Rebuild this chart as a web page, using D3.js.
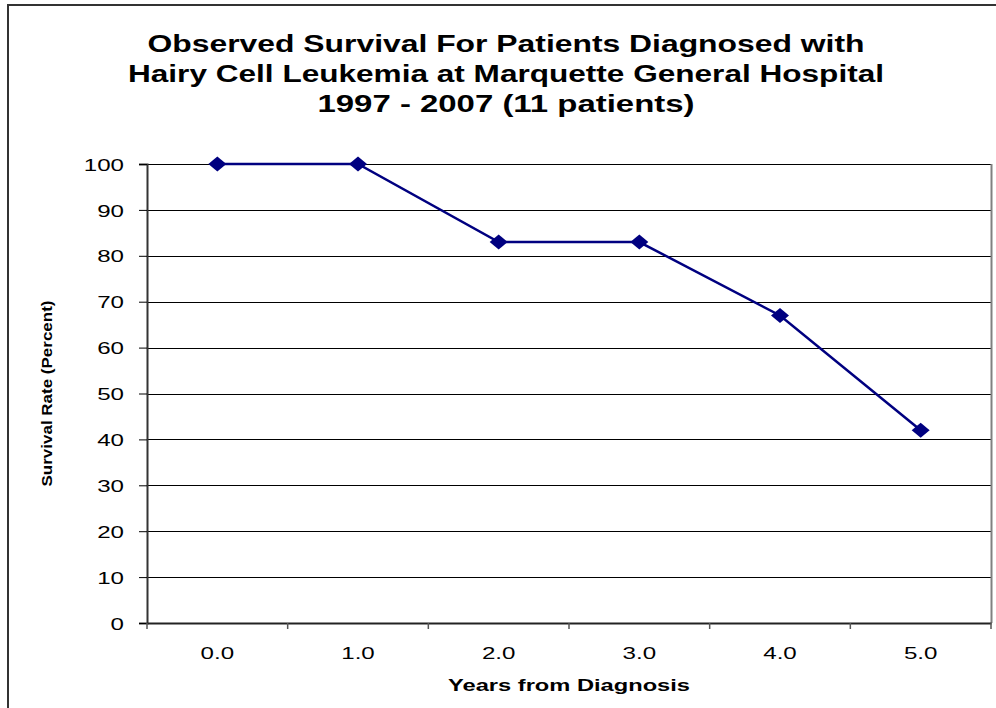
<!DOCTYPE html>
<html>
<head>
<meta charset="utf-8">
<script src="https://cdn.jsdelivr.net/npm/d3@7"></script>
<style>
  body { margin: 0; background: #fff; }
  text { font-family: Arial, "Liberation Sans", sans-serif; fill: #000; }
</style>
</head>
<body>
<div id="chart"></div>
<script>
var width = 996,
    height = 708,
    margin = { top: 164, right: 5, bottom: 85, left: 147 };

// data
var years = ['0.0', '1.0', '2.0', '3.0', '4.0', '5.0'];
var survival = [100, 100, 83, 83, 67, 42];
var yTicks = [0, 10, 20, 30, 40, 50, 60, 70, 80, 90, 100];
var titleLines = [
    'Observed Survival For Patients Diagnosed with',
    'Hairy Cell Leukemia at Marquette General Hospital',
    '1997 - 2007 (11 patients)'
];
var titleWidths = [717, 756, 377];

var innerW = 844,
    innerH = height - margin.top - margin.bottom;

var svg = d3.select('#chart').append('svg')
    .attr('width', width)
    .attr('height', height);

// outer frame (right and bottom cut off in the original)
svg.append('path')
    .attr('d', 'M8,' + height + 'V5H' + width)
    .attr('fill', 'none')
    .attr('stroke', '#333')
    .attr('stroke-width', 2);

// title
svg.selectAll('text.title')
    .data(titleLines)
    .enter().append('text')
    .attr('class', 'title')
    .attr('x', 506)
    .attr('y', function(d, i){ return 52 + i * 30; })
    .attr('text-anchor', 'middle')
    .attr('font-size', 23)
    .attr('font-weight', 'bold')
    .attr('textLength', function(d, i){ return titleWidths[i]; })
    .attr('lengthAdjust', 'spacingAndGlyphs')
    .text(function(d){ return d; });

var g = svg.append('g')
    .attr('transform', 'translate(' + [margin.left, margin.top] + ')');

var xScale = d3.scaleBand()
    .domain(years)
    .range([0, innerW])
    .paddingInner(0)
    .paddingOuter(0);

var yScale = d3.scaleLinear()
    .domain([0, 100])
    .range([innerH, 0]);

// gridlines
g.selectAll('line.grid')
    .data(yTicks.filter(function(d){ return d > 0; }))
    .enter().append('line')
    .attr('class', 'grid')
    .attr('x1', 0)
    .attr('x2', innerW)
    .attr('y1', function(d){ return Math.round(yScale(d)) + 0.5; })
    .attr('y2', function(d){ return Math.round(yScale(d)) + 0.5; })
    .attr('stroke', '#000')
    .attr('stroke-width', 1);

// plot area right border
g.append('line')
    .attr('x1', innerW + 0.5).attr('x2', innerW + 0.5)
    .attr('y1', 0).attr('y2', innerH)
    .attr('stroke', '#808080')
    .attr('stroke-width', 2);

// y axis
var yAxis = d3.axisLeft(yScale)
    .tickValues(yTicks)
    .tickSize(8)
    .tickPadding(16);

var yG = g.append('g')
    .attr('class', 'y axis')
    .call(yAxis);

yG.select('.domain').attr('stroke', '#333').attr('stroke-width', 2);
yG.selectAll('line').attr('stroke', '#000');
yG.selectAll('text')
    .attr('x', 0)
    .attr('dy', '0.36em')
    .attr('font-size', 17)
    .attr('font-family', 'Arial, "Liberation Sans", sans-serif')
    .attr('transform', 'translate(-23,0) scale(1.42,1)');

// x axis: categories with ticks on band edges
var xAxis = d3.axisBottom(xScale)
    .tickSize(0)
    .tickPadding(0);

var xG = g.append('g')
    .attr('class', 'x axis')
    .attr('transform', 'translate(0,' + innerH + ')')
    .call(xAxis);

xG.select('.domain').attr('stroke', '#222').attr('stroke-width', 2);
xG.selectAll('text')
    .attr('y', 0)
    .attr('dy', 0)
    .attr('font-size', 17)
    .attr('font-family', 'Arial, "Liberation Sans", sans-serif')
    .attr('transform', 'translate(0,36) scale(1.42,1)');

var edges = years.map(function(d){ return xScale(d); }).concat([innerW]);
xG.selectAll('line.edge')
    .data(edges)
    .enter().append('line')
    .attr('class', 'edge')
    .attr('x1', function(d){ return d; })
    .attr('x2', function(d){ return d; })
    .attr('y1', 0)
    .attr('y2', 6)
    .attr('stroke', '#555')
    .attr('stroke-width', 1.5);

// axis titles
g.append('text')
    .attr('x', innerW / 2)
    .attr('y', innerH + 68)
    .attr('text-anchor', 'middle')
    .attr('font-size', 17)
    .attr('font-weight', 'bold')
    .attr('textLength', 242)
    .attr('lengthAdjust', 'spacingAndGlyphs')
    .text('Years from Diagnosis');

g.append('text')
    .attr('transform', 'translate(-100,' + innerH / 2 + ') rotate(-90)')
    .attr('text-anchor', 'middle')
    .attr('dy', '0.35em')
    .attr('font-size', 14)
    .attr('font-weight', 'bold')
    .attr('textLength', 186)
    .attr('lengthAdjust', 'spacingAndGlyphs')
    .text('Survival Rate (Percent)');

// series line
var cx = function(d, i){ return xScale(years[i]) + xScale.bandwidth() / 2; };

var line = d3.line()
    .x(cx)
    .y(function(d){ return yScale(d); });

g.append('path')
    .datum(survival)
    .attr('d', line)
    .attr('fill', 'none')
    .attr('stroke', '#000080')
    .attr('stroke-width', 2.5);

// diamond markers
var mw = 9, mh = 7.5;
g.selectAll('path.marker')
    .data(survival)
    .enter().append('path')
    .attr('class', 'marker')
    .attr('transform', function(d, i){ return 'translate(' + [cx(d, i), yScale(d)] + ')'; })
    .attr('d', 'M' + (-mw) + ',0L0,' + (-mh) + 'L' + mw + ',0L0,' + mh + 'Z')
    .attr('fill', '#000080');
</script>
</body>
</html>
